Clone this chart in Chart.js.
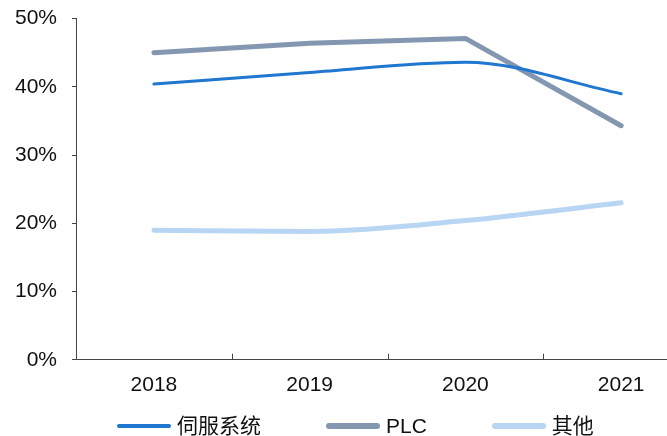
<!DOCTYPE html>
<html>
<head>
<meta charset="utf-8">
<script src="https://cdn.jsdelivr.net/npm/chart.js@4"></script>
<style>
  html,body{margin:0;padding:0;background:#fff;}
  #wrap{width:667px;height:436px;overflow:hidden;position:relative;}
  #c{position:absolute;left:0;top:-9px;}
  #legend{position:absolute;left:117px;top:414px;height:24px;display:flex;align-items:center;white-space:nowrap;}
  .item{display:flex;align-items:center;margin-right:65px;}
  .swatch{width:54px;border-radius:3px;margin-right:6px;}
  .lbl{font-size:21px;line-height:24px;color:#111;font-family:"Liberation Sans","Noto Sans CJK SC",Arial,sans-serif;}
</style>
</head>
<body>
<div id="wrap"><canvas id="c" width="705" height="445"></canvas><div id="legend"></div></div>
<script>
const categories = ['2018', '2019', '2020', '2021'];
const servoValues = [40.4, 42.1, 43.6, 39.0];
const plcValues = [45.0, 46.4, 47.1, 34.3];
const otherValues = [19.0, 18.8, 20.4, 23.0];
const seriesNames = ['伺服系统', 'PLC', '其他'];
const yTicks = [0, 10, 20, 30, 40, 50];

const FONT = '"Liberation Sans", Arial, sans-serif';

const upTicks = {
  id: 'upTicks',
  afterDraw(chart) {
    const xs = chart.scales.x;
    const ctx = chart.ctx;
    const bottom = chart.chartArea.bottom;
    ctx.save();
    ctx.strokeStyle = '#444';
    ctx.lineWidth = 1;
    for (let i = 0; i < categories.length - 1; i++) {
      const p = Math.round(xs.getPixelForValue(i + 0.5)) + 0.5;
      ctx.beginPath();
      ctx.moveTo(p, bottom);
      ctx.lineTo(p, bottom - 6);
      ctx.stroke();
    }
    ctx.restore();
  }
};

const chart = new Chart(document.getElementById('c'), {
  type: 'line',
  data: {
    labels: categories,
    datasets: [
      { label: seriesNames[0], data: servoValues, borderColor: '#1f77d0', backgroundColor: '#1f77d0', borderWidth: 3, cubicInterpolationMode: 'monotone', pointRadius: 0, borderCapStyle: 'round', legendWidth: 4 },
      { label: seriesNames[1], data: plcValues, borderColor: '#8497b0', backgroundColor: '#8497b0', borderWidth: 5, tension: 0, pointRadius: 0, borderCapStyle: 'round', borderJoinStyle: 'round', legendWidth: 6 },
      { label: seriesNames[2], data: otherValues, borderColor: '#b8d6f4', backgroundColor: '#b8d6f4', borderWidth: 5, cubicInterpolationMode: 'monotone', pointRadius: 0, borderCapStyle: 'round', legendWidth: 6 }
    ]
  },
  options: {
    responsive: false,
    animation: false,
    layout: { padding: { left: 0, right: 6, top: 0, bottom: 25 } },
    plugins: {
      tooltip: { enabled: false },
      legend: { display: false }
    },
    scales: {
      x: {
        type: 'category',
        offset: true,
        grid: { display: false, drawOnChartArea: false, drawTicks: false },
        border: { display: true, color: '#444', width: 1 },
        ticks: { font: { family: FONT, size: 21 }, color: '#111', padding: 13, maxRotation: 0 }
      },
      y: {
        min: 0, max: 50,
        afterBuildTicks(scale) { scale.ticks = yTicks.map(v => ({ value: v })); },
        grid: { drawOnChartArea: false, drawTicks: true, tickLength: 4, color: '#444' },
        border: { display: true, color: '#444', width: 1 },
        ticks: { font: { family: FONT, size: 21 }, color: '#111', padding: 15, callback: v => v + '%' }
      }
    }
  },
  plugins: [upTicks]
});

const legendEl = document.getElementById('legend');
chart.data.datasets.forEach(d => {
  const item = document.createElement('div');
  item.className = 'item';
  const sw = document.createElement('span');
  sw.className = 'swatch';
  sw.style.height = d.legendWidth + 'px';
  sw.style.background = d.borderColor;
  const t = document.createElement('span');
  t.className = 'lbl';
  t.textContent = d.label;
  item.appendChild(sw);
  item.appendChild(t);
  legendEl.appendChild(item);
});
</script>
</body>
</html>
